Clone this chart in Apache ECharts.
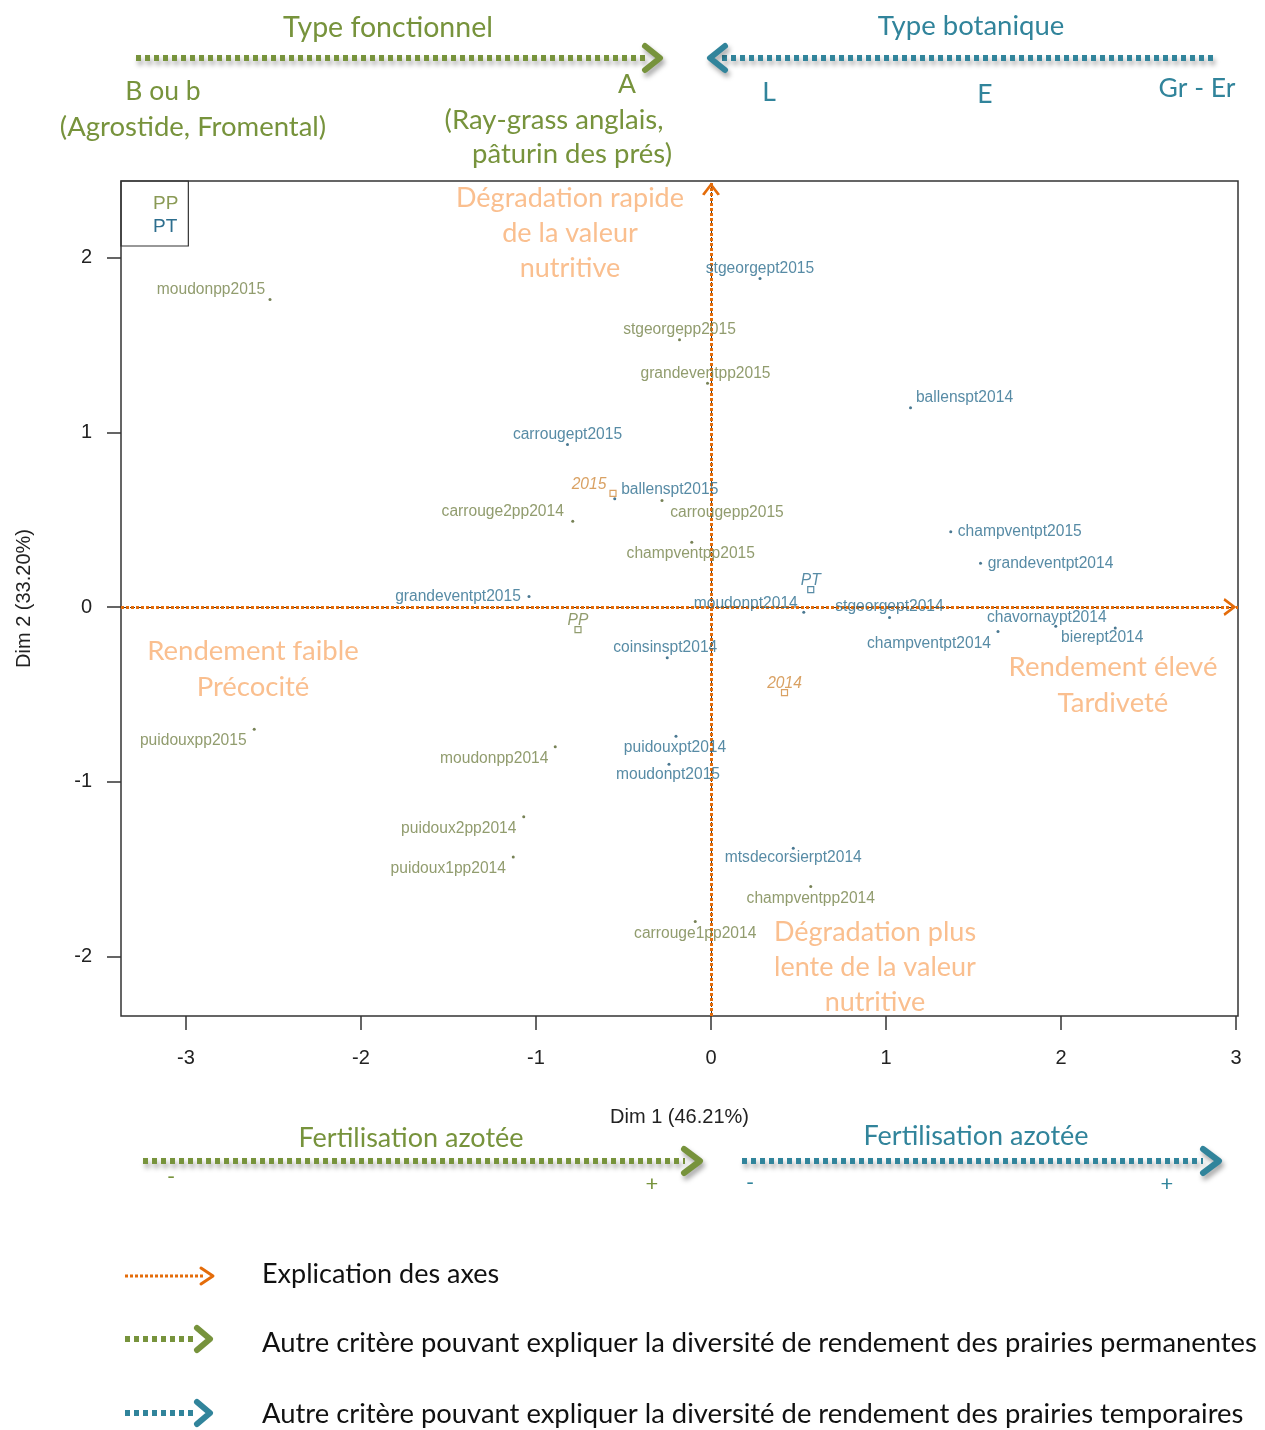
<!DOCTYPE html>
<html>
<head>
<meta charset="utf-8">
<script src="https://cdn.jsdelivr.net/npm/echarts@6/dist/echarts.min.js"></script>
<style>html,body{margin:0;padding:0;background:#fff}#main{width:1265px;height:1430px}</style>
</head>
<body>
<div id="main"></div>
<script>
// individuals - prairies permanentes (PP)
var ppNames = ['moudonpp2015','stgeorgepp2015','grandeventpp2015','carrougepp2015','carrouge2pp2014','champventpp2015',
  'puidouxpp2015','moudonpp2014','puidoux2pp2014','puidoux1pp2014','carrouge1pp2014','champventpp2014'];
var ppX = [-2.52, -0.18, -0.02, -0.28, -0.79, -0.11, -2.61, -0.89, -1.07, -1.13, -0.09, 0.57];
var ppY = [1.76, 1.53, 1.28, 0.61, 0.49, 0.37, -0.70, -0.80, -1.20, -1.43, -1.80, -1.60];

// individuals - prairies temporaires (PT)
var ptNames = ['stgeorgept2015','ballenspt2014','carrougept2015','ballenspt2015','champventpt2015','grandeventpt2014',
  'grandeventpt2015','moudonpt2014','stgeorgept2014','chavornaypt2014','bierept2014','champventpt2014',
  'coinsinspt2014','puidouxpt2014','moudonpt2015','mtsdecorsierpt2014'];
var ptX = [0.28, 1.14, -0.82, -0.55, 1.37, 1.54, -1.04, 0.53, 1.02, 1.97, 2.31, 1.64, -0.25, -0.20, -0.24, 0.47];
var ptY = [1.88, 1.14, 0.93, 0.62, 0.43, 0.25, 0.06, -0.03, -0.06, -0.11, -0.12, -0.14, -0.29, -0.74, -0.90, -1.38];

// supplementary categories
var supNames = ['2015', '2014', 'PP', 'PT'];
var supX = [-0.56, 0.42, -0.76, 0.57];
var supY = [0.65, -0.49, -0.13, 0.10];

var xTicks = [-3, -2, -1, 0, 1, 2, 3];
var yTicks = [-2, -1, 0, 1, 2];

// label placement (pixel offset from the point)
var labelOffset = {
  moudonpp2015: [-59, -10], stgeorgepp2015: [0, -10], grandeventpp2015: [-2, -10], carrougepp2015: [65, 12],
  carrouge2pp2014: [-70, -10], champventpp2015: [-1, 11], puidouxpp2015: [-61, 11], moudonpp2014: [-61, 12],
  puidoux2pp2014: [-65, 12], puidoux1pp2014: [-65, 12], carrouge1pp2014: [0, 12], champventpp2014: [0, 12],
  stgeorgept2015: [0, -10], ballenspt2014: [54, -10], carrougept2015: [0, -10], ballenspt2015: [55, -9],
  champventpt2015: [69, 0], grandeventpt2014: [70, 0], grandeventpt2015: [-71, 0], moudonpt2014: [-58, -9],
  stgeorgept2014: [0, -11], chavornaypt2014: [-9, -9], bierept2014: [-13, 10], champventpt2014: [-69, 12],
  coinsinspt2014: [-2, -10], puidouxpt2014: [-1, 11], moudonpt2015: [-1, 10], mtsdecorsierpt2014: [0, 10],
  '2015': [-24, -9], '2014': [0, -9], PP: [0, -9], PT: [0, -9]
};

var GREEN = '#77933c', TEAL = '#31849b', ORANGE = '#e46c0a', LIGHT = '#fabf8f';
var PPCOL = '#76834a', PTCOL = '#2d6e8e', SUPCOL = '#d08a3c';
var CAL = 'Lato, "Noto Sans", sans-serif';
var ARIAL = '"Liberation Sans", Arial, sans-serif';

function pts(names, xs, ys) {
  return names.map(function (n, i) {
    return { name: n, value: [xs[i], ys[i]], label: { offset: labelOffset[n] } };
  });
}

var supData = supNames.map(function (n, i) {
  var c = n === 'PP' ? PPCOL : n === 'PT' ? PTCOL : SUPCOL;
  return { name: n, value: [supX[i], supY[i]], itemStyle: { borderColor: c, color: '#fff' },
    label: { offset: labelOffset[n], color: c } };
});

var chevUp = 'path://M0,12 L9,0 L18,12 L15.6,13.2 L9,4.4 L2.4,13.2 Z';

function txt(x, y, s, size, color, extra) {
  var st = { text: s, fontSize: size, fontFamily: CAL, fill: color, align: 'center', verticalAlign: 'middle' };
  if (extra) for (var k in extra) st[k] = extra[k];
  return { type: 'text', x: x, y: y, style: st, z: 100 };
}
function dots(x1, x2, y, color, w, dash, shadow) {
  var st = { stroke: color, lineWidth: w, lineDash: dash };
  if (shadow) { st.shadowBlur = 5; st.shadowOffsetX = 2; st.shadowOffsetY = 4; st.shadowColor = 'rgba(0,0,0,0.35)'; }
  return { type: 'line', shape: { x1: x1, y1: y, x2: x2, y2: y }, style: st, z: 100 };
}
function chev(points, color, w, shadow) {
  var st = { stroke: color, lineWidth: w, fill: null, lineJoin: 'round', lineCap: 'round' };
  if (shadow) { st.shadowBlur = 5; st.shadowOffsetX = 2; st.shadowOffsetY = 4; st.shadowColor = 'rgba(0,0,0,0.35)'; }
  return { type: 'polyline', shape: { points: points }, style: st, z: 100 };
}

var graphics = [
  // top: type fonctionnel
  txt(388, 28, 'Type fonctionnel', 28.5, GREEN),
  dots(136, 648, 58, GREEN, 6, [5, 4], true),
  chev([[645, 46], [660, 58], [645, 70]], GREEN, 6, true),
  txt(163, 91, 'B ou b', 26.5, GREEN),
  txt(193, 127, '(Agrostide, Fromental)', 27.5, GREEN),
  txt(627, 84, 'A', 26.5, GREEN),
  txt(554, 120, '(Ray-grass anglais,', 27.5, GREEN),
  txt(572, 154, 'pâturin des prés)', 27.5, GREEN),
  // top: type botanique
  txt(971, 26, 'Type botanique', 27.5, TEAL),
  dots(722, 1213, 58, TEAL, 6, [5, 4], true),
  chev([[725, 46], [710, 58], [725, 70]], TEAL, 6, true),
  txt(769, 92, 'L', 26.5, TEAL),
  txt(985, 94, 'E', 26.5, TEAL),
  txt(1197, 88, 'Gr - Er', 26.5, TEAL),
  // inside plot annotations
  txt(570, 198, 'Dégradation rapide', 27, LIGHT),
  txt(570, 233, 'de la valeur', 27, LIGHT),
  txt(570, 268, 'nutritive', 27, LIGHT),
  txt(253, 651, 'Rendement faible', 27.5, LIGHT),
  txt(253, 687, 'Précocité', 27.5, LIGHT),
  txt(1113, 667, 'Rendement élevé', 27.5, LIGHT),
  txt(1113, 703, 'Tardiveté', 27.5, LIGHT),
  txt(875, 932, 'Dégradation plus', 27, LIGHT),
  txt(875, 967, 'lente de la valeur', 27, LIGHT),
  txt(875, 1002, 'nutritive', 27, LIGHT),
  // bottom: fertilisation
  txt(411, 1138, 'Fertilisation azotée', 27, GREEN),
  dots(143, 685, 1161, GREEN, 6, [5, 4], true),
  chev([[684, 1149], [700, 1161], [684, 1173]], GREEN, 6, true),
  txt(171, 1177, '-', 22, GREEN),
  txt(652, 1184, '+', 22, GREEN),
  txt(976, 1136, 'Fertilisation azotée', 27, TEAL),
  dots(742, 1203, 1161, TEAL, 6, [5, 4], true),
  chev([[1203, 1149], [1219, 1161], [1203, 1173]], TEAL, 6, true),
  txt(750, 1183, '-', 22, TEAL),
  txt(1167, 1184, '+', 22, TEAL),
  // legend
  dots(125, 205, 1276, ORANGE, 3, [3, 2], false),
  chev([[201, 1268], [213, 1276], [201, 1284]], ORANGE, 3, false),
  txt(262, 1274, 'Explication des axes', 27, '#111', { align: 'left' }),
  dots(125, 196, 1339, GREEN, 6, [5, 4], false),
  chev([[197, 1328], [210, 1339], [197, 1350]], GREEN, 6, false),
  txt(262, 1343, 'Autre critère pouvant expliquer la diversité de rendement des prairies permanentes', 27.4, '#111', { align: 'left' }),
  dots(125, 196, 1413, TEAL, 6, [5, 4], false),
  chev([[197, 1402], [210, 1413], [197, 1424]], TEAL, 6, false),
  txt(262, 1414, 'Autre critère pouvant expliquer la diversité de rendement des prairies temporaires', 27.4, '#111', { align: 'left' })
];

var chart = echarts.init(document.getElementById('main'), null, { renderer: 'canvas' });
var option = {
  animation: false,
  backgroundColor: '#fff',
  grid: { left: 121, top: 181, width: 1117, height: 835, show: true, borderColor: '#333', borderWidth: 1.5,
    containLabel: false, outerBoundsMode: 'none' },
  legend: {
    left: 121, top: 181, orient: 'vertical', selectedMode: false,
    data: [{ name: 'PP', textStyle: { color: '#8a9a55' } }, { name: 'PT', textStyle: { color: PTCOL } }],
    icon: 'none', itemWidth: 10, itemHeight: 14, itemGap: 3,
    padding: [13, 10, 9, 17], borderColor: '#333', borderWidth: 1.2,
    textStyle: { fontSize: 19, fontFamily: ARIAL, lineHeight: 20 }
  },
  xAxis: {
    type: 'value', min: -3.3714, max: 3.0114,
    name: 'Dim 1 (46.21%)', nameLocation: 'middle', nameGap: 91,
    nameTextStyle: { fontSize: 20, fontFamily: ARIAL, color: '#222' },
    axisLine: { show: false, onZero: false }, splitLine: { show: false },
    axisTick: { show: true, length: 14, customValues: xTicks, lineStyle: { color: '#333', width: 1.5 } },
    axisLabel: { customValues: xTicks, margin: 32, fontSize: 20, fontFamily: ARIAL, color: '#222' }
  },
  yAxis: {
    type: 'value', min: -2.3405, max: 2.4378,
    name: 'Dim 2 (33.20%)', nameLocation: 'middle', nameGap: 87, nameRotate: 90,
    nameTextStyle: { fontSize: 20, fontFamily: ARIAL, color: '#222' },
    axisLine: { show: false, onZero: false }, splitLine: { show: false },
    axisTick: { show: true, length: 14, customValues: yTicks, lineStyle: { color: '#333', width: 1.5 } },
    axisLabel: { customValues: yTicks, margin: 29, fontSize: 20, fontFamily: ARIAL, color: '#222' }
  },
  series: [
    {
      name: 'axes0', type: 'scatter', data: [], silent: true,
      markLine: {
        silent: true, symbol: 'none', label: { show: false }, animation: false,
        lineStyle: { color: '#333', width: 1, type: [5, 4] },
        data: [{ xAxis: 0 }, { yAxis: 0 }]
      }
    },
    {
      name: 'axes1', type: 'scatter', data: [], silent: true, z: 3,
      markLine: {
        silent: true, symbol: ['none', chevUp], symbolSize: [18, 13], symbolOffset: [[0, 0], [0, 8]],
        label: { show: false }, animation: false,
        lineStyle: { color: ORANGE, width: 3, type: [3, 2] },
        itemStyle: { color: ORANGE },
        data: [{ xAxis: 0 }, { yAxis: 0 }]
      }
    },
    {
      name: 'PP', type: 'scatter', data: pts(ppNames, ppX, ppY), symbolSize: 3, z: 5,
      itemStyle: { color: '#55632c' },
      label: { show: true, position: 'inside', formatter: '{b}', fontSize: 15.6, fontFamily: ARIAL, color: PPCOL },
      emphasis: { disabled: true }
    },
    {
      name: 'PT', type: 'scatter', data: pts(ptNames, ptX, ptY), symbolSize: 3, z: 5,
      itemStyle: { color: '#1d5675' },
      label: { show: true, position: 'inside', formatter: '{b}', fontSize: 15.6, fontFamily: ARIAL, color: PTCOL },
      emphasis: { disabled: true }
    },
    {
      name: 'sup', type: 'scatter', data: supData, symbol: 'rect', symbolSize: 6, z: 6,
      itemStyle: { borderWidth: 1.2 },
      label: { show: true, position: 'inside', formatter: '{b}', fontSize: 15.6, fontStyle: 'italic', fontFamily: ARIAL },
      emphasis: { disabled: true }
    }
  ],
  graphic: graphics
};
chart.setOption(option);
</script>
</body>
</html>
